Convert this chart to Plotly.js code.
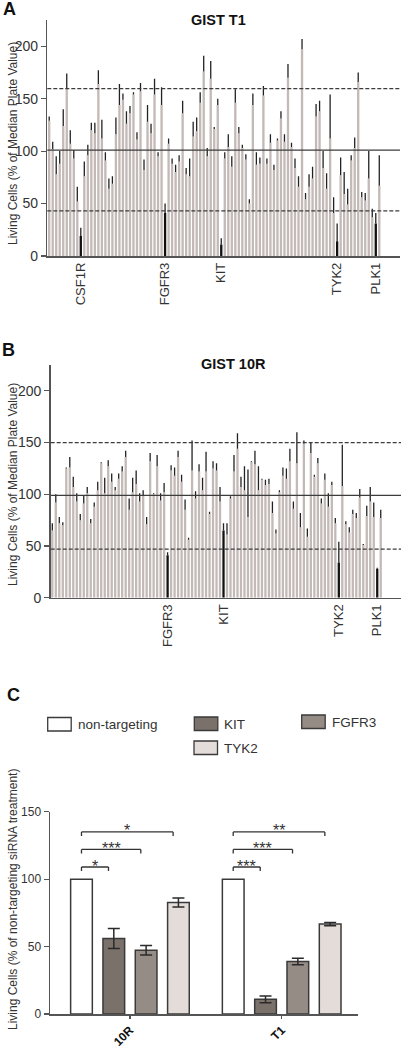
<!DOCTYPE html>
<html><head><meta charset="utf-8">
<script src="https://cdn.plot.ly/plotly-3.0.1.min.js"></script>
<style>html,body{margin:0;padding:0;background:#fff}#chart{width:401px;height:1050px}</style>
</head><body><div id="chart"></div>
<script>
// ---------- Panel A: GIST T1 screen ----------
const valuesT1 = [129,102,78,88,124,160,107,93,52,19,76,96,120,117,164,112,91,64,69,116,144,149,126,136,154,111,157,82,128,117,154,95,144,41,107,88,80,90,136,78,76,114,119,146,176,95,169,121,144,11,93,104,85,146,117,103,92,50,144,87,88,153,88,108,82,110,131,109,170,104,84,66,197,54,66,74,133,138,84,64,112,41,14,77,59,49,91,103,166,56,53,74,37,31,67];
const errT1 = [4,7,17,12,16,14,13,8,14,8,14,10,7,10,13,18,8,10,7,16,20,6,12,7,2,7,8,10,16,9,15,4,17,9,5,5,7,6,12,6,17,14,13,10,15,8,17,2,6,6,6,12,10,13,6,3,5,4,11,12,6,9,5,8,5,2,7,7,13,4,9,10,10,6,12,11,12,10,16,15,42,15,17,17,21,15,5,10,9,5,7,26,8,10,29];
const hitIdxT1 = [9,33,49,82,93];
const hitLabelsT1 = ['CSF1R','FGFR3','KIT','TYK2','PLK1'];
const thresholdsT1 = [43,101,159.5];

// ---------- Panel B: GIST 10R screen ----------
const values10R = [65,92,72,70,125,126,107,93,75,91,101,72,88,104,130,101,127,112,104,115,122,136,85,102,110,93,99,71,132,100,127,94,102,41,123,118,136,112,85,56,123,96,122,104,122,81,125,123,93,65,61,96,122,144,107,104,78,131,129,104,114,109,110,82,62,102,118,115,132,86,130,68,149,59,140,117,130,91,114,88,109,72,34,108,71,63,81,77,97,51,79,93,78,28,77];
const err10R = [7,8,6,3,1,10,10,8,6,8,6,4,4,8,1,15,6,8,3,5,5,6,11,14,13,8,5,7,8,1,11,7,9,3,5,8,6,7,10,2,29,7,7,12,19,2,7,7,14,7,11,2,16,15,10,23,46,1,13,23,1,5,5,11,4,2,8,10,12,7,30,14,3,8,10,2,5,5,6,13,3,5,20,40,3,5,4,5,8,1,10,14,14,1,8];
const hitIdx10R = [33,49,82,93];
const hitLabels10R = ['FGFR3','KIT','TYK2','PLK1'];
const thresholds10R = [47,99,150];

// ---------- Panel C: validation ----------
const cellLines = ['10R','T1'];
const siRNAs = ['non-targeting','KIT','FGFR3','TYK2'];
const meanNT = [100,100];
const meanKIT = [56,10.9];
const meanFGFR3 = [47.2,39];
const meanTYK2 = [82.7,66.7];
const semNT = [0,0];
const semKIT = [7.4,2.5];
const semFGFR3 = [3.5,2.4];
const semTYK2 = [3.3,1.2];
const sig10R = ['*','***','*'];
const sigT1 = ['***','***','**'];

// ---------- styling ----------
const FONT = 'Liberation Sans, Arial, Helvetica, sans-serif';
const W = 401, H = 1050;
const px = x => x / W;
const py = y => 1 - y / H;
const barGrey = '#c3b9b6';
const hitColor = '#111111';
const axisCol = '#555555';
const textCol = '#333333';
const cColors = ['#ffffff','#7b716b','#968c86','#e3dcd9'];

function screenTrace(vals, errs, hits, xa, ya) {
  return {
    type: 'bar', xaxis: xa, yaxis: ya,
    x: vals.map((_, i) => i), y: vals, width: 0.66,
    marker: { color: vals.map((_, i) => hits.includes(i) ? hitColor : barGrey), line: { width: 0 } },
    error_y: { type: 'data', symmetric: false, array: errs, arrayminus: vals.map(() => 0),
               color: '#222', thickness: 1.3, width: 0 },
    hoverinfo: 'skip', showlegend: false
  };
}

const traces = [
  screenTrace(valuesT1, errT1, hitIdxT1, 'x', 'y'),
  screenTrace(values10R, err10R, hitIdx10R, 'x2', 'y2')
];

const cMeans = [meanNT, meanKIT, meanFGFR3, meanTYK2];
const cSems = [semNT, semKIT, semFGFR3, semTYK2];
const slot = 0.213, barW = 0.143;
const centers = siRNAs.map((_, k) => (k - 1.5) * slot);
siRNAs.forEach((name, k) => {
  traces.push({
    type: 'bar', xaxis: 'x3', yaxis: 'y3', name: name,
    x: cellLines.map((_, i) => i), y: cMeans[k],
    width: barW, offset: centers[k] - barW / 2,
    marker: { color: cColors[k], line: { color: '#3a3a3a', width: 1.5 } },
    error_y: { type: 'data', array: cSems[k], visible: k > 0, color: '#2a2a2a', thickness: 1.5, width: 6 },
    hoverinfo: 'skip', showlegend: false
  });
});

const shapes = [];
const annotations = [];

function refLines(th, xa, ya) {
  th.forEach((v, i) => {
    shapes.push({ type: 'line', xref: xa + ' domain', yref: ya, x0: 0, x1: 1, y0: v, y1: v,
      line: { color: '#3c3c3c', width: 1.2, dash: i === 1 ? 'solid' : '4px,2px' }, layer: 'above' });
  });
}
refLines(thresholdsT1, 'x', 'y');
refLines(thresholds10R, 'x2', 'y2');

// significance brackets
const levels = [109, 122, 135];
[sig10R, sigT1].forEach((sig, g) => {
  sig.forEach((lab, k) => {
    const x0 = g + centers[0];
    const x1 = g + centers[k + 1] - 0.035;
    const y = levels[k];
    const ln = { color: '#333', width: 1.3 };
    shapes.push({ type: 'line', xref: 'x3', yref: 'y3', x0: x0, x1: x1, y0: y, y1: y, line: ln });
    shapes.push({ type: 'line', xref: 'x3', yref: 'y3', x0: x0, x1: x0, y0: y, y1: y - 3, line: ln });
    shapes.push({ type: 'line', xref: 'x3', yref: 'y3', x0: x1, x1: x1, y0: y, y1: y - 3, line: ln });
    annotations.push({ xref: 'x3', yref: 'y3', x: (x0 + x1) / 2, y: y, yanchor: 'middle', yshift: 1,
      text: lab, showarrow: false, font: { family: FONT, size: 16, color: '#333' } });
  });
});

// manual legend
const legendPos = [
  { x: 47.7, y: 717.5 },
  { x: 194.3, y: 717 },
  { x: 301.7, y: 715 },
  { x: 194, y: 741 }
];
siRNAs.forEach((name, k) => {
  const p = legendPos[k];
  shapes.push({ type: 'rect', xref: 'paper', yref: 'paper', x0: px(p.x), x1: px(p.x + 23.5), y0: py(p.y), y1: py(p.y + 13.5),
    fillcolor: cColors[k], line: { color: '#3a3a3a', width: 1.3 } });
  annotations.push({ xref: 'paper', yref: 'paper', x: px(p.x + 28), y: py(p.y + 7), xanchor: 'left', yanchor: 'middle',
    text: name, showarrow: false, font: { family: FONT, size: 13.5, color: textCol } });
});

// panel letters, titles, y titles
[['A', 9, 9], ['B', 8, 350], ['C', 13, 695]].forEach(([t, x, y]) => {
  annotations.push({ xref: 'paper', yref: 'paper', x: px(x), y: py(y), xanchor: 'center', yanchor: 'middle',
    text: '<b>' + t + '</b>', showarrow: false, font: { family: FONT, size: 18, color: '#111' } });
});
[['GIST T1', 219, 20], ['GIST 10R', 233, 364]].forEach(([t, x, y]) => {
  annotations.push({ xref: 'paper', yref: 'paper', x: px(x), y: py(y), xanchor: 'center', yanchor: 'middle',
    text: '<b>' + t + '</b>', showarrow: false, font: { family: FONT, size: 14.5, color: '#111' } });
});
[['Living Cells (% of Median Plate Value)', 13, 144], ['Living Cells (% of Median Plate Value)', 13, 485],
 ['Living Cells (% of non-targeting siRNA treatment)', 13, 900]].forEach(([t, x, y]) => {
  annotations.push({ xref: 'paper', yref: 'paper', x: px(x), y: py(y), xanchor: 'center', yanchor: 'middle',
    text: t, textangle: -90, showarrow: false, font: { family: FONT, size: 12, color: textCol } });
});

const yScreen = d => ({
  domain: d, range: [0, 225], tickvals: [0, 50, 100, 150, 200], ticks: 'outside', ticklen: 5, tickwidth: 1.2,
  tickcolor: axisCol, showline: true, linecolor: axisCol, linewidth: 1.5, showgrid: false, zeroline: false,
  tickfont: { family: FONT, size: 14, color: textCol }
});
const xScreen = (d, r, idx, labs) => ({
  domain: d, range: r, tickvals: idx, ticktext: labs, tickangle: -90, ticks: '', showline: true,
  linecolor: axisCol, linewidth: 1.5, showgrid: false, zeroline: false,
  tickfont: { family: FONT, size: 13, color: textCol }
});

const layout = {
  width: W, height: H, margin: { l: 0, r: 0, t: 0, b: 0 },
  paper_bgcolor: '#fff', plot_bgcolor: 'rgba(0,0,0,0)',
  barmode: 'overlay', showlegend: false,
  font: { family: FONT, color: textCol },
  xaxis: Object.assign(xScreen([px(47.3), px(400)], [-0.54, 99.9], hitIdxT1, hitLabelsT1), { anchor: 'y' }),
  yaxis: Object.assign(yScreen([py(256), py(20)]), { anchor: 'x' }),
  xaxis2: Object.assign(xScreen([px(50.7), 1], [-0.46, 99.8], hitIdx10R, hitLabels10R), { anchor: 'y2' }),
  yaxis2: Object.assign(yScreen([py(597.7), py(365)]), { anchor: 'x2' }),
  xaxis3: {
    domain: [px(50), px(358)], range: [-0.527, 1.503], anchor: 'y3',
    tickvals: cellLines.map((_, i) => i), ticktext: cellLines, tickangle: -45,
    ticks: 'outside', ticklen: 3, tickcolor: axisCol, tickwidth: 1.2,
    showline: true, linecolor: axisCol, linewidth: 1.5, showgrid: false, zeroline: false,
    tickfont: { family: FONT, size: 12, color: '#111', weight: 'bold' }
  },
  yaxis3: {
    domain: [py(1014), py(811.7)], range: [0, 150], anchor: 'x3',
    tickvals: [0, 50, 100, 150], ticks: 'outside', ticklen: 5, tickcolor: axisCol, tickwidth: 1.2,
    showline: true, linecolor: axisCol, linewidth: 1.5, showgrid: false, zeroline: false,
    tickfont: { family: FONT, size: 12, color: textCol }
  },
  shapes: shapes, annotations: annotations
};

Plotly.newPlot('chart', traces, layout, { staticPlot: true, displayModeBar: false });
</script></body></html>
